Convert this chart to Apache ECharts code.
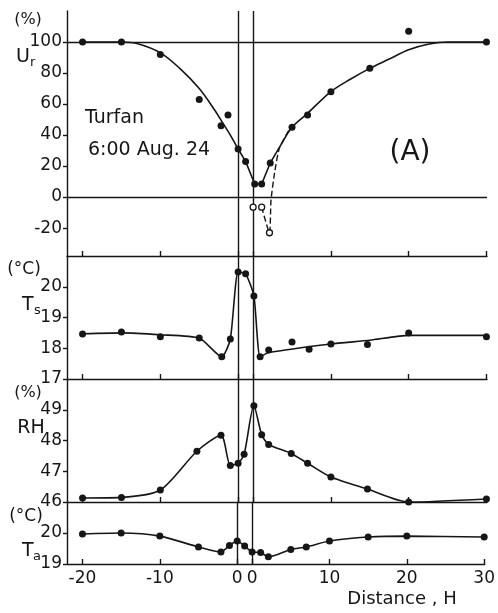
<!DOCTYPE html>
<html><head><meta charset="utf-8">
<script src="https://cdn.jsdelivr.net/npm/echarts@6/dist/echarts.min.js"></script>
<style>html,body{margin:0;padding:0;background:#fff}#c{width:498px;height:613px}</style>
</head><body><div id="c"></div>
<script>
// Distance axis (in H). Upwind (u) distances are negative, 'o' values are the
// fraction across the oasis strip, downwind (d) distances are measured from the
// downwind edge of the oasis.
const OASIS_W = 1.93;
const ZONES = 'uuuuuuuoddddddddd';

// Ur (%) observations
const urX = [-20, -15, -10, -5, -2.2, -1.3, 0, 0.5, 0.2, 1.1, 2.2, 5, 7, 10, 15, 20, 30];
const urY = [100, 100, 92, 63, 46, 53, 31, 23, 8.4, 8.4, 22, 45, 53, 68, 83, 107, 100];
// Ur fitted curve
const urFitLeftX = [-20, -15, -13, -10, -7.5, -5, -3, -2, -1, 0];
const urFitLeftY = [100, 100, 99, 93, 83, 70, 56, 48, 40, 31];
const urFitMidX = [0, 0.5, 0.2, 1.1, 2.2];
const urFitMidZ = 'uoddd';
const urFitMidY = [31, 23, 8.4, 8.4, 22];
const urFitRightX = [2.2, 3.5, 5, 7, 10, 12.5, 15, 17.5, 20, 22.5, 25, 30];
const urFitRightY = [22, 33, 45, 54, 68, 76, 83, 89, 95, 98.5, 100, 100];
// Ur open circles and dashed curve
const urOpenX = [0, 1.1, 2.1];
const urOpenY = [-6.5, -6.5, -23];
const urDashX = [1.1, 2.1, 2.3, 2.8, 3.4, 4.7];
const urDashY = [-6.5, -23, -2, 17, 32, 44];

// Ts (°C)
const tsX = [-20, -15, -10, -5, -2.1, -1, 0, 0.5, 0.1, 0.9, 2, 5, 7.2, 10, 14.7, 20, 30];
const tsY = [18.46, 18.53, 18.37, 18.33, 17.72, 18.30, 20.48, 20.42, 19.7, 17.72, 17.94, 18.2, 17.97, 18.14, 18.12, 18.5, 18.37];
const tsFitX = [-20, -15, -10, -5, -2.1, -1, 0, 0.5, 0.1, 0.9, 2, 10, 15, 20, 30];
const tsFitZ = 'uuuuuuuoddddddd';
const tsFitY = [18.47, 18.5, 18.44, 18.33, 17.72, 18.3, 20.48, 20.42, 19.7, 17.72, 17.86, 18.14, 18.26, 18.42, 18.42];

// RH (%)
const rhX = [-20, -15, -10, -5.3, -2.2, -1, 0, 0.4, 0.1, 1.1, 2, 4.9, 7, 10, 14.7, 20, 30];
const rhY = [46.13, 46.15, 46.39, 47.65, 48.17, 47.19, 47.26, 47.55, 49.13, 48.19, 47.87, 47.58, 47.26, 46.81, 46.42, 46.0, 46.1];

// Ta (°C)
const taX = [-20, -15, -10, -5, -2.1, -1, 0, 0.5, 0, 1.1, 2.1, 5, 7, 10, 15, 20, 30];
const taY = [19.97, 20.0, 19.9, 19.55, 19.39, 19.6, 19.74, 19.58, 19.39, 19.37, 19.23, 19.47, 19.55, 19.74, 19.87, 19.9, 19.87];

// Tick labels
const xTickDist = [-20, -10, 0, 0, 10, 20, 30];
const xTickZone = 'uuudddd';
const xTickLabels = ['-20', '-10', '0', '0', '10', '20', '30'];
const urTicks = [-20, 0, 20, 40, 60, 80, 100];
const tsTicks = [17, 18, 19, 20];
const rhTicks = [46, 47, 48, 49];
const taTicks = [19, 20];

function pos(d, z) { return z === 'u' ? d : (z === 'o' ? d * OASIS_W : OASIS_W + d); }
function pts(xs, ys, zones) { return xs.map((d, i) => [pos(d, zones[i]), ys[i]]); }
const rep = (c, n) => c.repeat(n);

const INK = '#161616';
const FONT = 'DejaVu Sans';
const xTickPos = xTickDist.map((d, i) => pos(d, xTickZone[i]));

const grids = [
  {left: 67, right: 11, top: 11, height: 245},
  {left: 67, right: 11, top: 256, height: 123},
  {left: 67, right: 11, top: 379, height: 123},
  {left: 67, right: 11, top: 502, height: 62}
];
const yRanges = [[-38, 120, urTicks], [17, 21, tsTicks], [46, 50, rhTicks], [19, 21, taTicks]];

const xAxes = grids.map((g, i) => ({
  gridIndex: i, type: 'value', min: -22, max: 32,
  axisLine: {show: true, onZero: false, lineStyle: {color: INK, width: 1.4}},
  axisTick: {show: true, inside: true, length: 5, customValues: xTickPos, lineStyle: {color: INK, width: 1.4}},
  axisLabel: {show: i === 3, customValues: xTickPos, margin: 6, fontSize: 17, fontFamily: FONT, color: INK,
    formatter: v => { const k = xTickPos.findIndex(p => Math.abs(p - v) < 1e-6); return k >= 0 ? xTickLabels[k] : ''; }},
  splitLine: {show: false}
}));
const yAxes = yRanges.map((r, i) => ({
  gridIndex: i, type: 'value', min: r[0], max: r[1],
  axisLine: {show: true, onZero: false, lineStyle: {color: INK, width: 1.4}},
  axisTick: {show: true, inside: false, length: 4, customValues: r[2], lineStyle: {color: INK, width: 1.4}},
  axisLabel: {customValues: r[2], margin: 5, fontSize: 17, fontFamily: FONT, color: INK},
  splitLine: {show: false}
}));

const lineStyle = {color: INK, width: 1.6};
const vLines = (extra) => ({
  silent: true, symbol: 'none', label: {show: false},
  lineStyle: {color: INK, width: 1.4, type: 'solid'},
  data: (extra || []).concat([{xAxis: 0}, {xAxis: OASIS_W}])
});
const dot = (i, data) => ({type: 'scatter', xAxisIndex: i, yAxisIndex: i, data, symbolSize: 7,
  itemStyle: {color: INK, opacity: 1}, z: 5});

const series = [
  {type: 'line', xAxisIndex: 0, yAxisIndex: 0, data: pts(urFitLeftX, urFitLeftY, rep('u', urFitLeftX.length)),
   smooth: 0.35, showSymbol: false, lineStyle, markLine: vLines([{yAxis: 100}, {yAxis: 0}])},
  {type: 'line', xAxisIndex: 0, yAxisIndex: 0, data: pts(urFitMidX, urFitMidY, urFitMidZ), showSymbol: false, lineStyle},
  {type: 'line', xAxisIndex: 0, yAxisIndex: 0, data: pts(urFitRightX, urFitRightY, rep('d', urFitRightX.length)),
   smooth: 0.35, showSymbol: false, lineStyle},
  {type: 'line', xAxisIndex: 0, yAxisIndex: 0, data: pts(urDashX, urDashY, rep('d', urDashX.length)),
   smooth: 0.2, showSymbol: false, lineStyle: {color: INK, width: 1.4, type: [6, 3]}},
  dot(0, pts(urX, urY, ZONES)),
  {type: 'scatter', xAxisIndex: 0, yAxisIndex: 0, data: pts(urOpenX, urOpenY, rep('d', urOpenX.length)),
   symbolSize: 6, itemStyle: {color: '#fff', borderColor: INK, borderWidth: 1.3, opacity: 1}, z: 6},

  {type: 'line', xAxisIndex: 1, yAxisIndex: 1, data: pts(tsFitX, tsFitY, tsFitZ), smooth: 0.2,
   showSymbol: false, lineStyle, markLine: vLines()},
  dot(1, pts(tsX, tsY, ZONES)),

  {type: 'line', xAxisIndex: 2, yAxisIndex: 2, data: pts(rhX, rhY, ZONES), smooth: 0.25,
   symbol: 'circle', symbolSize: 7, itemStyle: {color: INK}, lineStyle, markLine: vLines()},

  {type: 'line', xAxisIndex: 3, yAxisIndex: 3, data: pts(taX, taY, ZONES), smooth: 0.25,
   symbol: 'circle', symbolSize: 7, itemStyle: {color: INK}, lineStyle, markLine: vLines()}
];

const txt = (text, x, y, size, align, valign) => ({
  type: 'text', x, y, silent: true,
  style: {text, fill: INK, font: size + 'px "' + FONT + '"', align: align || 'center', verticalAlign: valign || 'middle'}
});

const graphic = [
  txt('(%)', 28, 20, 16),
  txt('U', 16, 57, 19, 'left'), txt('r', 30, 63, 13, 'left'),
  txt('(°C)', 24, 270, 17),
  txt('T', 22, 305, 19, 'left'), txt('s', 34, 311, 13, 'left'),
  txt('(%)', 28, 393, 16),
  txt('RH', 31, 428, 19),
  txt('(°C)', 26, 517, 17),
  txt('T', 22, 551, 19, 'left'), txt('a', 33, 557, 13, 'left'),
  txt('Turfan', 85, 118, 19, 'left'),
  txt('6:00 Aug. 24', 88, 150, 19, 'left'),
  txt('(A)', 410, 153, 28),
  txt('Distance , H', 402, 599, 18)
];

const chart = echarts.init(document.getElementById('c'), null, {renderer: 'canvas'});
chart.setOption({
  backgroundColor: '#fff', animation: false,
  grid: grids, xAxis: xAxes, yAxis: yAxes, series, graphic
});
</script></body></html>
